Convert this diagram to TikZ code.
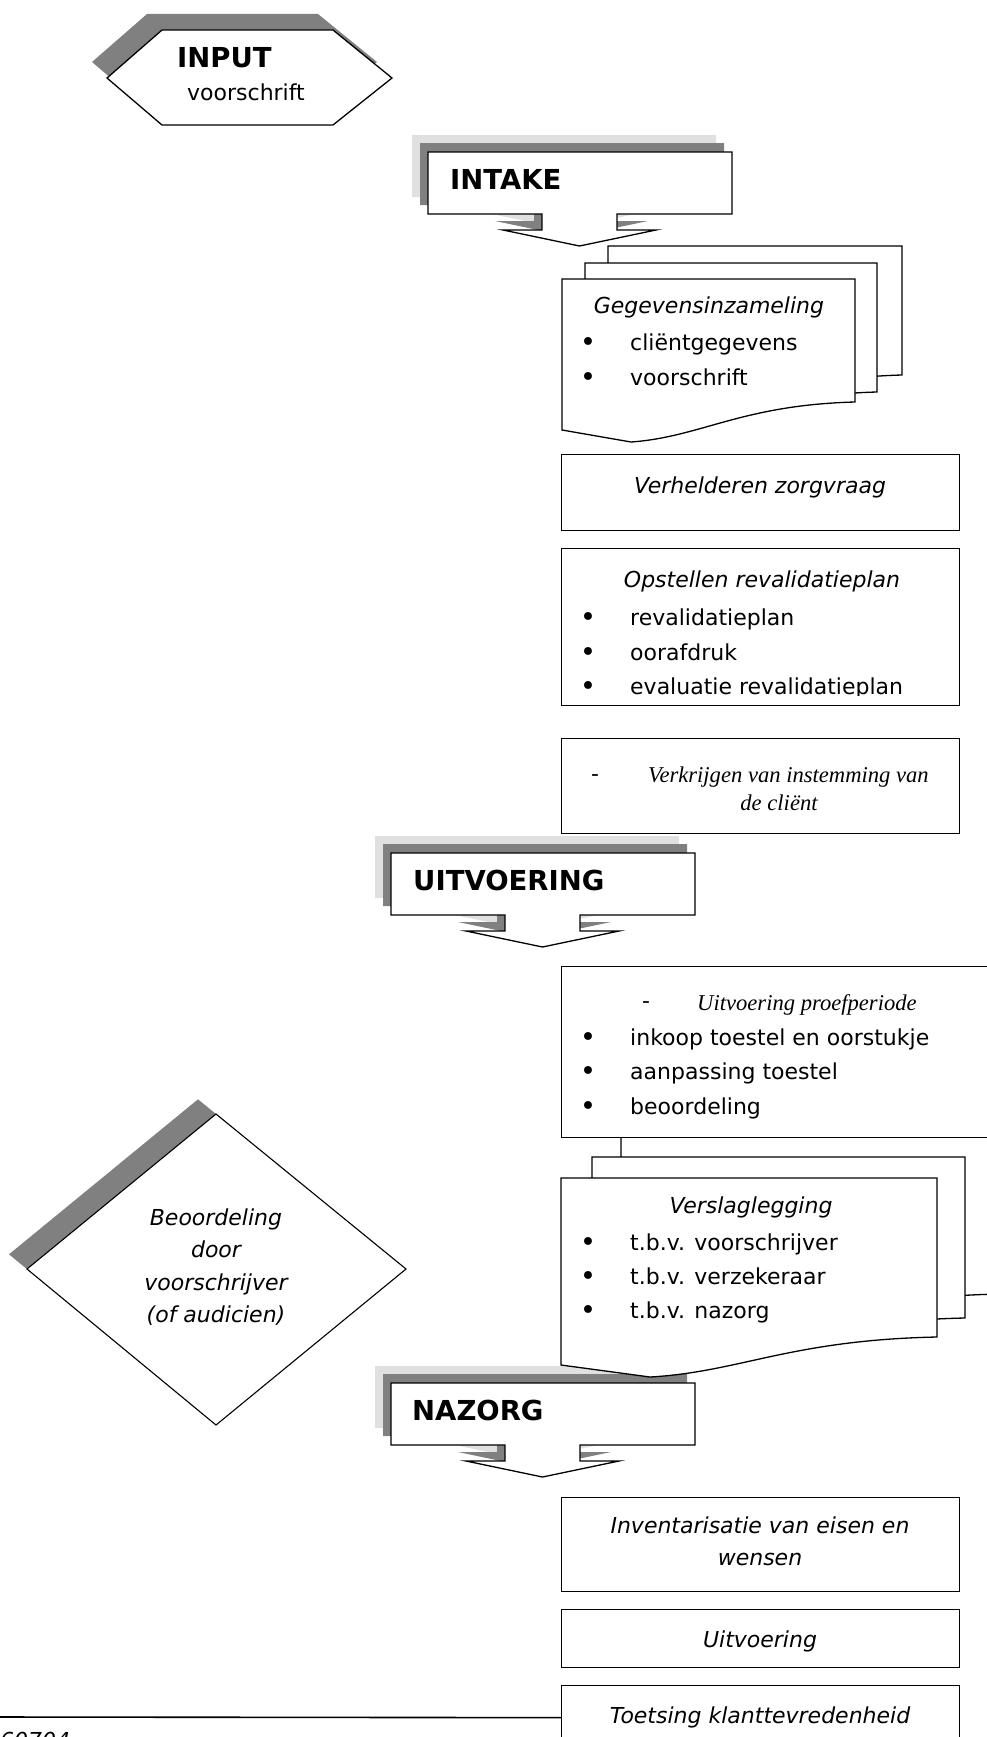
\documentclass[tikz,border=0pt]{standalone}
\usepackage{fontspec}
\setmainfont{DejaVu Sans}
\newfontfamily\tnrfont{Liberation Serif}
\definecolor{shlight}{RGB}{224,224,224}
\definecolor{shdark}{RGB}{128,128,128}
\tikzset{
  txt/.style={inner sep=0pt, font=\fontsize{22}{26}\selectfont},
  bul/.style={inner sep=0pt, font=\fontsize{27}{30}\selectfont},
  itxt/.style={inner sep=0pt, font=\itshape\fontsize{22}{26}\selectfont},
  tnr/.style={inner sep=0pt, font=\tnrfont\itshape\fontsize{22.6}{27}\selectfont},
  hdA/.style={inner sep=0pt, font=\bfseries\fontsize{27.5}{32}\selectfont},
  procbox/.style={draw=black, fill=white, line width=1.3pt, inner sep=0pt, anchor=north west},
  docstyle/.style={draw=black, fill=white, line width=1.3pt, line join=miter},
  outl/.style={draw=black, line width=1.3pt},
  calloutpic/.pic={
    \foreach \dx/\dy/\col/\dr in {-16/-17/shlight/none, -8/-9/shdark/none, 0/0/white/black}{
      \filldraw[fill=\col, draw=\dr, line width=1.3pt, shift={(\dx,\dy)}]
        (0,0) -- ++(304,0) -- ++(0,62) -- ++(-115,0) -- ++(0,16) -- ++(39,0)
        -- ++(-76.5,16) -- ++(-76.5,-16) -- ++(39,0) -- ++(0,-16) -- ++(-114,0) -- cycle;
    }
  }
}
\begin{document}
\begin{tikzpicture}[x=1pt,y=-1pt]
\useasboundingbox (0,0) rectangle (986,1737);

% INPUT hexagon
\fill[shdark] (92,62) -- (147,14) -- (318,14) -- (377,62) -- (318,109) -- (147,109) -- cycle;
\filldraw[fill=white, outl] (107,78) -- (162,30) -- (333,30) -- (392,78) -- (333,125) -- (162,125) -- cycle;
\node[hdA, anchor=base west] (input) at (177,67) {INPUT};
\node[txt, anchor=base west] (inputsub) at (187,100) {voorschrift};

% INTAKE callout
\pic at (428,152) {calloutpic};
\node[hdA, anchor=base west] (intake) at (450,189) {INTAKE};

% Gegevensinzameling multidocument
\filldraw[docstyle] (608,246) -- (902,246) -- (902,375) .. controls (787,378) and (748,410) .. (678,415) -- (608,403) -- cycle;
\filldraw[docstyle] (585,263) -- (877,263) -- (877,392) .. controls (763,395) and (724,427) .. (654,432) -- (585,420) -- cycle;
\filldraw[docstyle] (562,279) -- (855,279) -- (855,402) .. controls (741,405) and (701,437) .. (631,442) -- (562,430) -- cycle;
\node[itxt, anchor=base] (geg) at (709,313) {Gegevensinzameling};
\node[bul, anchor=base] (gegb1) at (588,351) {•};
\node[txt, anchor=base west] (gegt1) at (630,350) {cliëntgegevens};
\node[bul, anchor=base] (gegb2) at (588,386) {•};
\node[txt, anchor=base west] (gegt2) at (630,385) {voorschrift};

% Verhelderen zorgvraag
\node[procbox, minimum width=398, minimum height=76] (verh) at (561,454) {};
\node[itxt, anchor=base] (verht) at (760,493) {Verhelderen zorgvraag};

% Opstellen revalidatieplan
\node[procbox, minimum width=398, minimum height=157] (opst) at (561,548) {};
\node[itxt, anchor=base] (opstt) at (762,587) {Opstellen revalidatieplan};
\node[bul, anchor=base] (opb1) at (588,626) {•};
\node[txt, anchor=base west] (opt1) at (630,625) {revalidatieplan};
\node[bul, anchor=base] (opb2) at (588,661) {•};
\node[txt, anchor=base west] (opt2) at (630,660) {oorafdruk};
\begin{scope}
\clip (561,548) rectangle (959,695);
\node[bul, anchor=base] (opb3) at (588,695) {•};
\node[txt, anchor=base west] (opt3) at (630,694) {evaluatie revalidatieplan};
\end{scope}

% Verkrijgen van instemming
\node[procbox, minimum width=398, minimum height=95] (verk) at (561,738) {};
\node[txt, anchor=base] (verkd) at (595,781) {-};
\node[tnr, anchor=base west] (verkt1) at (648,782) {Verkrijgen van instemming van};
\node[tnr, anchor=base] (verkt2) at (779,810) {de cliënt};

% UITVOERING callout
\pic at (391,853) {calloutpic};
\node[hdA, anchor=base west] (uitv) at (413,890) {UITVOERING};

% NAZORG callout (behind documents)
\pic at (391,1383) {calloutpic};
\node[hdA, anchor=base west] (nazorg) at (412,1420) {NAZORG};

% Verslaglegging multidocument
\filldraw[docstyle] (621,1128) -- (1000,1128) -- (1000,1294) .. controls (852,1297) and (801,1329) .. (711,1334) -- (621,1322) -- cycle;
\filldraw[docstyle] (592,1157) -- (965,1157) -- (965,1318) .. controls (820,1321) and (770,1353) .. (680,1358) -- (592,1346) -- cycle;
\filldraw[docstyle] (561,1178) -- (937,1178) -- (937,1337) .. controls (790,1340) and (740,1372) .. (650,1377) -- (561,1365) -- cycle;
\node[itxt, anchor=base] (versl) at (751,1213) {Verslaglegging};
\node[bul, anchor=base] (vb1) at (588,1251) {•};
\node[txt, anchor=base west] (vt1) at (630,1250) {t.b.v. voorschrijver};
\node[bul, anchor=base] (vb2) at (588,1285) {•};
\node[txt, anchor=base west] (vt2) at (630,1284) {t.b.v. verzekeraar};
\node[bul, anchor=base] (vb3) at (588,1319) {•};
\node[txt, anchor=base west] (vt3) at (630,1318) {t.b.v. nazorg};

% Uitvoering proefperiode
\node[procbox, minimum width=440, minimum height=171] (proef) at (561,966) {};
\node[txt, anchor=base] (proefd) at (646,1008) {-};
\node[tnr, anchor=base west] (proeft) at (697,1010) {Uitvoering proefperiode};
\node[bul, anchor=base] (pb1) at (588,1046) {•};
\node[txt, anchor=base west] (pt1) at (630,1045) {inkoop toestel en oorstukje};
\node[bul, anchor=base] (pb2) at (588,1080) {•};
\node[txt, anchor=base west] (pt2) at (630,1079) {aanpassing toestel};
\node[bul, anchor=base] (pb3) at (588,1115) {•};
\node[txt, anchor=base west] (pt3) at (630,1114) {beoordeling};

% Decision diamond
\fill[shdark] (198,1099.3) -- (388,1254.3) -- (198,1410.3) -- (9,1254.3) -- cycle;
\filldraw[fill=white, draw=black, line width=1.1pt] (216,1114) -- (406,1269) -- (216,1425) -- (27,1269) -- cycle;
\node[itxt, anchor=base] (dec1) at (216,1225) {Beoordeling};
\node[itxt, anchor=base] (dec2) at (216,1257) {door};
\node[itxt, anchor=base] (dec3) at (216,1290) {voorschrijver};
\node[itxt, anchor=base] (dec4) at (216,1322) {(of audicien)};

% Nazorg steps
\node[procbox, minimum width=398, minimum height=94] (inv) at (561,1497) {};
\node[itxt, anchor=base] (invt1) at (760,1533) {Inventarisatie van eisen en};
\node[itxt, anchor=base] (invt2) at (760,1565) {wensen};
\node[procbox, minimum width=398, minimum height=58] (uitvn) at (561,1609) {};
\node[itxt, anchor=base] (uitvnt) at (760,1647) {Uitvoering};
\node[procbox, minimum width=398, minimum height=64] (toets) at (561,1685) {};
\node[itxt, anchor=base] (toetst) at (760,1723) {Toetsing klanttevredenheid};

% bottom line and page number
\coordinate (lineend) at (0,1717);
\draw[line width=1.6pt] (lineend) -- (toets.west);
\node[itxt, anchor=base west] (pagenum) at (0,1748) {60704};
\end{tikzpicture}
\end{document}
